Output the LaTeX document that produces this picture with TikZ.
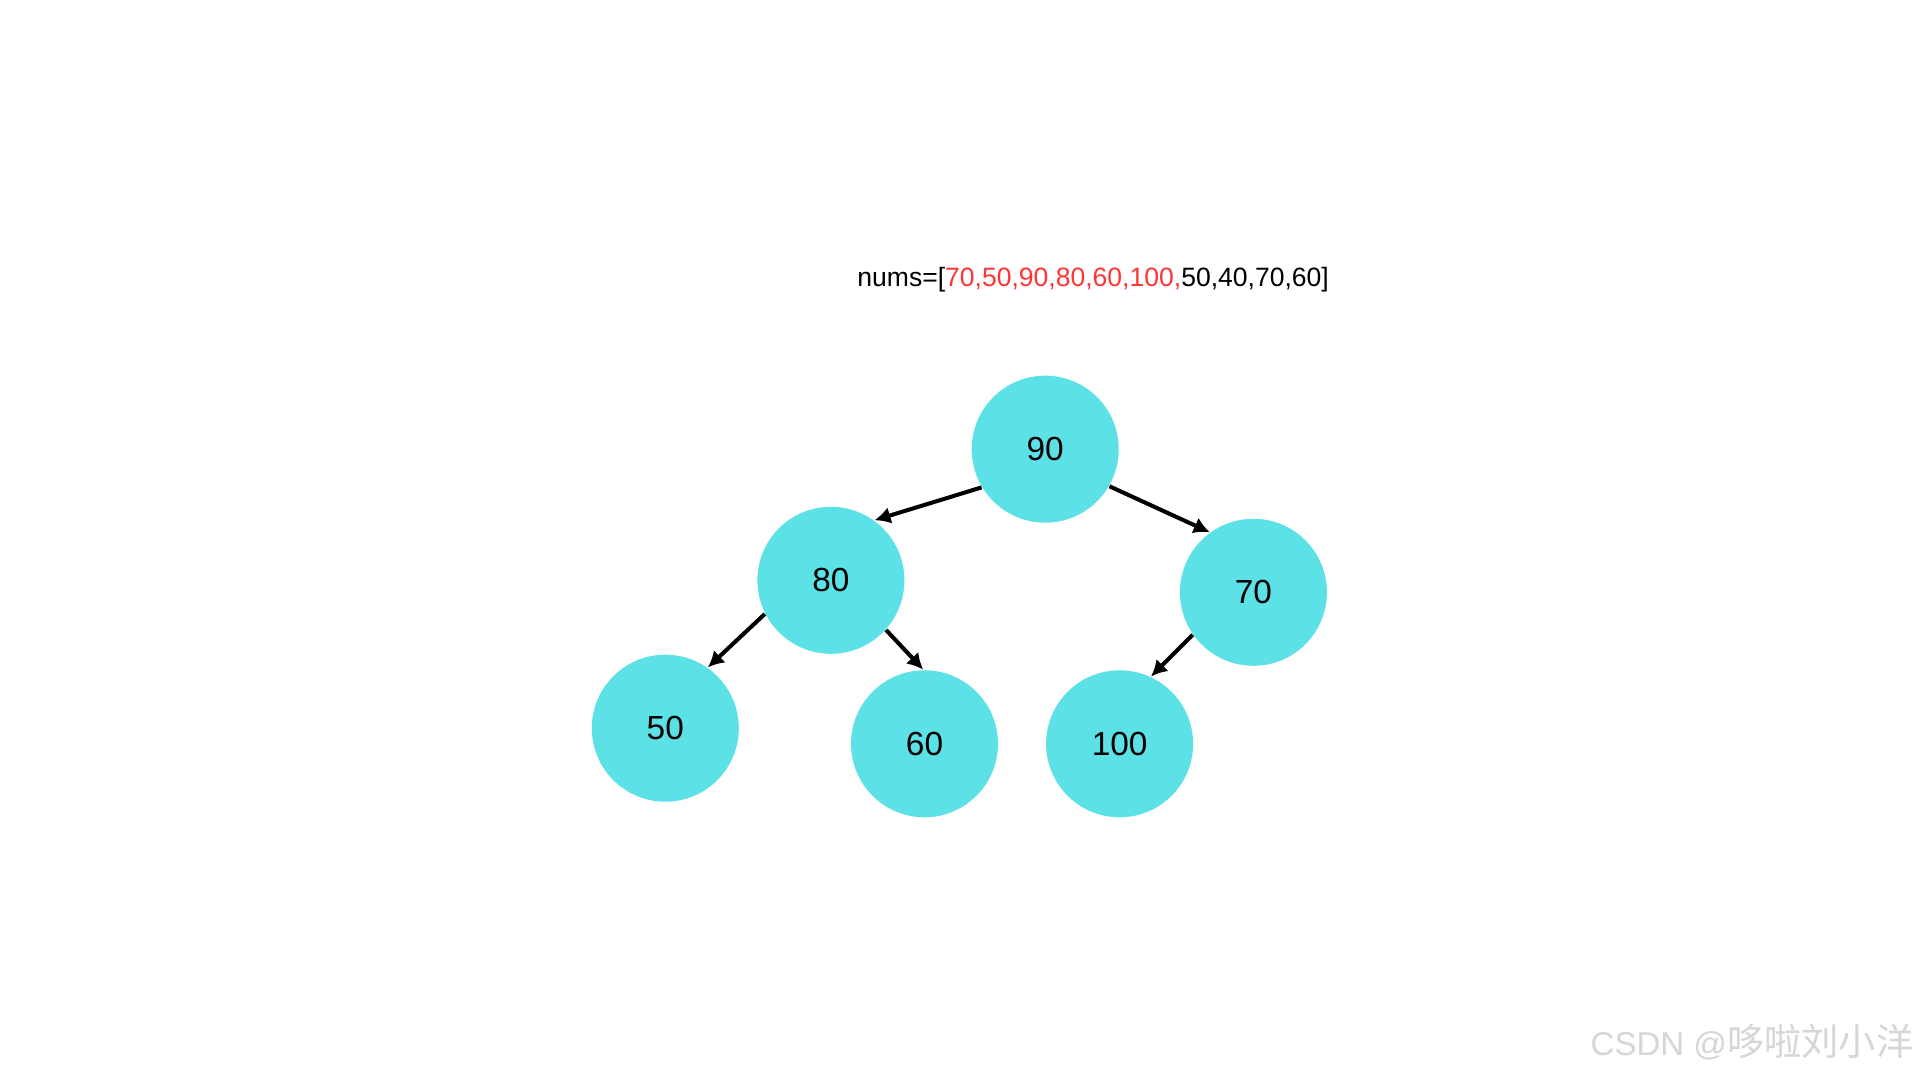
\documentclass[tikz,border=0pt]{standalone}
\usepackage{fontspec}
\setmainfont{Liberation Sans}
\newfontfamily\cjkfont{Noto Sans CJK SC}
\usepackage{tikz}
\usetikzlibrary{arrows.meta,positioning}
\definecolor{heapcyan}{HTML}{5CE1E6}
\definecolor{numred}{HTML}{FF3434}
\definecolor{markgray}{HTML}{D6D6D6}

\begin{document}
\begin{tikzpicture}[>={Latex[length=0.16cm,width=0.17cm]},
heapnode/.style={circle,fill=heapcyan,minimum size=1.47cm,inner sep=0pt,font=\fontsize{9.5pt}{11pt}\selectfont},
flow/.style={->,line width=1.15pt,draw=black},
lab/.style={font=\fontsize{7.55pt}{9pt}\selectfont,inner sep=0pt}]
\useasboundingbox (0,0) rectangle (19.2,10.8);
\fill[white] (0,0) rectangle (19.2,10.8);
\node[lab,anchor=base west] (nums) at (8.567,7.933)
{nums=[\textcolor{numred}{70,50,90,80,60,100,}50,40,70,60]};
\node[heapnode] (n90) at (10.452,6.308) {90};
\node[heapnode] (n80) at (8.309,4.997) {80};
\node[heapnode] (n70) at (12.534,4.877) {70};
\node[heapnode] (n50) at (6.653,3.518) {50};
\node[heapnode] (n60) at (9.245,3.362) {60};
\node[heapnode] (n100) at (11.196,3.362) {100};
\draw[flow] (n90.211.7)--(n80.54);
\draw[flow] (n90.-30.3)--(n70.126.3);
\draw[flow] (n80.207.7)--(n50.55.4);
\draw[flow] (n80.-42)--(n60.91);
\draw[flow] (n70.215.5)--(n100.65.7);
\node[anchor=base east,text=markgray,font=\fontsize{9.4pt}{10pt}\selectfont,inner sep=0pt] (mark) at (19.14,0.24) {CSDN @{\cjkfont\fontsize{10.6pt}{11pt}\selectfont 哆啦刘小洋}};
\end{tikzpicture}
\end{document}
